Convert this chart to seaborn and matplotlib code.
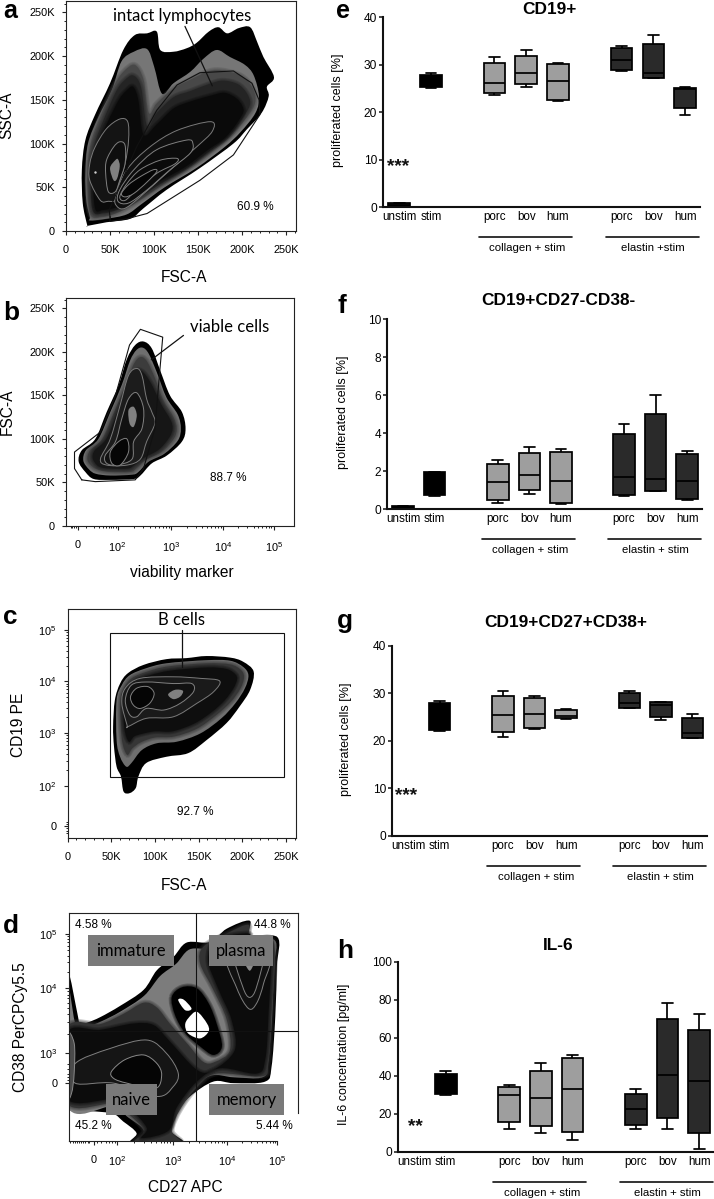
import numpy as np
import pandas as pd
import matplotlib
matplotlib.use('Agg')
import matplotlib.pyplot as plt
import seaborn as sns
from matplotlib.colors import to_rgb
from matplotlib.path import Path
from matplotlib.patches import PathPatch, Rectangle

# ---- box plot values: min, q1, median, q3, max ----
GROUPS = ['unstim', 'stim', 'gap1', 'col_porc', 'col_bov', 'col_hum', 'gap2', 'el_porc', 'el_bov', 'el_hum']
GROUP_LABELS = ['unstim', 'stim', '', 'porc', 'bov', 'hum', '', 'porc', 'bov', 'hum']

E_VALUES = {
    'unstim': [0.2, 0.3, 0.5, 0.8, 0.9], 'stim': [25.0, 25.3, 26.6, 27.8, 28.3],
    'col_porc': [23.7, 24.0, 26.1, 30.4, 31.6], 'col_bov': [25.2, 26.0, 28.3, 31.8, 33.0],
    'col_hum': [22.4, 22.5, 26.5, 30.2, 30.3], 'el_porc': [28.6, 28.9, 31.0, 33.5, 34.0],
    'el_bov': [27.3, 27.3, 28.2, 34.4, 36.2], 'el_hum': [19.5, 20.8, 24.8, 25.0, 25.2],
}
F_VALUES = {
    'unstim': [0.03, 0.06, 0.1, 0.15, 0.18], 'stim': [0.67, 0.72, 1.2, 1.93, 1.95],
    'col_porc': [0.3, 0.49, 1.42, 2.37, 2.58], 'col_bov': [0.81, 1.0, 1.77, 2.93, 3.29],
    'col_hum': [0.25, 0.3, 1.46, 3.0, 3.18], 'el_porc': [0.69, 0.74, 1.69, 3.97, 4.48],
    'el_bov': [0.93, 0.95, 1.56, 5.03, 6.03], 'el_hum': [0.47, 0.53, 1.49, 2.88, 3.08],
}
G_VALUES = {
    'stim': [22.1, 22.3, 25.0, 28.0, 28.4],
    'col_porc': [20.9, 21.8, 25.4, 29.4, 30.5], 'col_bov': [22.5, 22.6, 25.7, 29.1, 29.4],
    'col_hum': [24.6, 24.7, 25.2, 26.4, 26.7], 'el_porc': [26.8, 27.0, 28.0, 30.0, 30.5],
    'el_bov': [24.3, 25.0, 27.5, 28.1, 28.2], 'el_hum': [20.5, 20.7, 21.6, 24.7, 25.7],
}
H_VALUES = {
    'stim': [29.6, 30.5, 36.0, 40.9, 42.5],
    'col_porc': [11.8, 15.8, 29.8, 34.2, 35.3], 'col_bov': [9.8, 13.7, 28.1, 42.5, 46.7],
    'col_hum': [6.0, 10.2, 33.2, 49.1, 51.0], 'el_porc': [11.8, 14.0, 22.5, 30.5, 33.0],
    'el_bov': [11.8, 17.9, 40.5, 69.6, 78.2], 'el_hum': [1.4, 9.8, 37.0, 64.0, 72.5],
}

# ---- panel a outlines: FSC-A (K), SSC-A (K) ----
A_OUTER = [(24, 7), (19, 32), (18, 70), (22, 104), (33, 133), (50, 169), (65, 207), (78, 224), (92, 226), (103, 228),
           (107, 207), (122, 205), (137, 209), (148, 215), (162, 228), (173, 233), (183, 226), (196, 232), (209, 233),
           (217, 216), (224, 199), (236, 176), (228, 165), (230, 154), (222, 135), (205, 116), (190, 100), (152, 72),
           (114, 47), (88, 26), (73, 14), (46, 10), (25, 6)]
A_BAND = [(27, 16), (23, 35), (22, 66), (25, 100), (37, 131), (52, 161), (63, 194), (77, 205), (92, 208), (100, 188),
          (109, 157), (122, 169), (141, 182), (156, 197), (171, 207), (186, 199), (203, 190), (213, 178), (219, 154),
          (215, 135), (198, 113), (180, 96), (148, 72), (112, 50), (86, 31), (69, 19), (46, 14), (27, 12)]
A_LEVEL2 = [(27, 20), (24, 66), (28, 100), (39, 131), (54, 165), (65, 182), (78, 190), (88, 173), (94, 135), (103, 146),
            (122, 163), (141, 173), (160, 182), (175, 184), (198, 178), (211, 165), (215, 150), (209, 135), (190, 112),
            (172, 96), (141, 73), (108, 52), (82, 34), (61, 22), (42, 16)]
A_LEVEL3 = [(30, 24), (28, 66), (32, 98), (43, 128), (57, 160), (66, 172), (76, 178), (85, 165), (92, 120), (103, 135),
            (122, 153), (141, 160), (162, 168), (178, 172), (195, 168), (205, 158), (209, 146), (203, 133), (186, 110),
            (165, 93), (137, 72), (106, 53), (80, 36), (60, 25), (42, 20)]
A_LEVEL4 = [(33, 26), (31, 66), (36, 96), (47, 124), (60, 150), (68, 160), (76, 165), (82, 150), (88, 110), (103, 122),
            (122, 140), (141, 148), (165, 155), (180, 158), (193, 152), (200, 143), (200, 133), (182, 108), (160, 92),
            (135, 73), (103, 55), (78, 39), (60, 28), (42, 24)]
A_LEFT1 = [(39, 35), (27, 58), (27, 77), (33, 96), (46, 117), (61, 128), (70, 125), (71, 104), (67, 77), (58, 47), (56, 35), (48, 34)]
A_LEFT2 = [(48, 45), (45, 66), (46, 81), (54, 96), (61, 102), (67, 98), (67, 77), (61, 58), (56, 45)]
A_LEFT3 = [(54, 58), (50, 72), (56, 81), (59, 82), (61, 74), (58, 60)]
A_RIGHT1 = [(58, 28), (56, 39), (69, 70), (95, 96), (126, 115), (164, 125), (166, 114), (148, 96), (114, 66), (84, 39), (67, 26)]
A_RIGHT2 = [(59, 34), (61, 47), (77, 70), (103, 93), (137, 104), (144, 100), (141, 89), (118, 70), (92, 47), (71, 32)]
A_RIGHT3 = [(61, 39), (69, 54), (84, 70), (107, 81), (126, 83), (124, 77), (103, 66), (80, 47), (67, 35)]
A_RIGHT4 = [(63, 43), (71, 53), (84, 62), (99, 70), (103, 68), (92, 56), (77, 43), (67, 39)]
A_GATE = [(50, 16), (49, 24), (80, 96), (103, 138), (126, 167), (152, 181), (190, 183), (211, 169), (219, 150), (220, 133),
          (190, 87), (152, 58), (122, 39), (92, 20), (69, 14), (50, 11)]

# ---- panel b outlines: viability (display decades), FSC-A (K) ----
B_OUTER = [(1.38, 62), (1.25, 74), (1.31, 87), (1.57, 100), (1.79, 131), (2.02, 162), (2.18, 192), (2.34, 208), (2.5, 212),
           (2.66, 204), (2.82, 179), (3.01, 150), (3.24, 131), (3.31, 112), (3.24, 97), (2.95, 81), (2.66, 72), (2.44, 58),
           (2.31, 54), (1.86, 53), (1.54, 54)]
B_BAND = [(1.45, 65), (1.34, 75), (1.39, 87), (1.63, 100), (1.86, 131), (2.08, 162), (2.24, 190), (2.36, 202), (2.48, 205),
          (2.6, 198), (2.76, 176), (2.94, 148), (3.16, 128), (3.22, 112), (3.16, 98), (2.9, 83), (2.6, 74), (2.4, 62),
          (2.28, 59), (1.86, 58), (1.58, 60)]
B_LEVEL2 = [(1.52, 68), (1.42, 76), (1.47, 87), (1.7, 100), (1.93, 131), (2.14, 160), (2.28, 182), (2.38, 192), (2.48, 194),
            (2.58, 188), (2.72, 170), (2.88, 145), (3.08, 125), (3.14, 112), (3.08, 100), (2.85, 85), (2.55, 76), (2.36, 66),
            (2.24, 62), (1.86, 62), (1.65, 64)]
B_LEVEL3 = [(1.6, 70), (1.52, 78), (1.56, 87), (1.78, 100), (2.0, 131), (2.2, 160), (2.36, 178), (2.46, 178), (2.56, 172),
            (2.68, 160), (2.84, 140), (3.02, 122), (3.06, 112), (3.0, 102), (2.8, 88), (2.5, 78), (2.32, 70), (2.2, 66),
            (1.86, 66), (1.7, 67)]
B_CONTOUR1 = [(1.67, 77), (1.86, 100), (2.05, 139), (2.21, 173), (2.37, 181), (2.47, 173), (2.56, 146), (2.66, 131), (2.72, 118),
              (2.56, 97), (2.44, 77), (2.18, 70), (1.79, 70)]
B_CONTOUR2 = [(1.76, 81), (1.96, 97), (2.08, 123), (2.21, 146), (2.37, 153), (2.5, 135), (2.47, 112), (2.31, 97), (2.28, 77),
              (1.99, 70), (1.79, 72)]
B_CONTOUR3 = [(1.86, 85), (2.02, 97), (2.18, 100), (2.21, 85), (2.05, 70), (1.89, 72)]
B_CORE = [(2.21, 133), (2.31, 137), (2.37, 127), (2.31, 114), (2.23, 118)]
B_GATE = [(1.31, 53), (1.57, 51), (2.34, 53), (2.5, 66), (2.72, 112), (2.79, 162), (2.87, 217), (2.44, 226), (2.23, 208),
          (1.96, 150), (1.67, 108), (1.17, 85), (1.17, 66)]

# ---- panel c outlines: FSC-A (K), CD19 PE (display decades) ----
C_OUTER = [(64, 1.89), (61, 2.18), (56, 2.37), (53, 2.76), (52, 3.14), (54, 3.65), (60, 3.97), (69, 4.17), (87, 4.33), (113, 4.44),
           (136, 4.46), (159, 4.5), (186, 4.47), (201, 4.39), (213, 4.2), (209, 3.85), (197, 3.53), (182, 3.21), (159, 2.88),
           (138, 2.63), (113, 2.56), (90, 2.44), (81, 2.18), (78, 1.96), (71, 1.86)]
C_BAND = [(67, 2.37), (60, 2.56), (56, 2.88), (56, 3.65), (62, 3.94), (71, 4.13), (89, 4.26), (113, 4.36), (159, 4.42), (186, 4.41),
          (201, 4.29), (207, 4.13), (203, 3.88), (192, 3.59), (176, 3.3), (152, 3.01), (125, 2.85), (102, 2.82), (85, 2.69), (73, 2.44)]
C_LEVEL2 = [(68, 2.6), (62, 2.9), (60, 3.62), (65, 3.9), (74, 4.08), (91, 4.2), (115, 4.3), (159, 4.36), (186, 4.34), (198, 4.24),
            (202, 4.1), (198, 3.88), (187, 3.62), (170, 3.36), (148, 3.1), (122, 2.95), (100, 2.93), (84, 2.84), (74, 2.72)]
C_LEVEL3 = [(70, 2.85), (65, 3.1), (64, 3.6), (69, 3.85), (78, 4.02), (94, 4.13), (118, 4.22), (160, 4.28), (182, 4.25), (192, 4.15),
            (194, 4.05), (190, 3.88), (180, 3.65), (165, 3.42), (145, 3.2), (120, 3.05), (100, 3.05), (85, 3.0), (76, 2.95)]
C_CONTOUR1 = [(68, 3.17), (62, 3.59), (66, 3.88), (83, 4.07), (121, 4.1), (152, 4.07), (174, 4.02), (167, 3.81), (148, 3.59),
              (121, 3.33), (90, 3.3), (69, 3.14)]
C_CONTOUR2 = [(71, 3.37), (66, 3.65), (73, 3.94), (90, 4.0), (121, 3.97), (142, 3.97), (144, 3.81), (129, 3.59), (110, 3.46),
              (90, 3.49), (79, 3.33)]
C_CONTOUR3 = [(75, 3.56), (72, 3.72), (79, 3.88), (92, 3.91), (99, 3.78), (94, 3.59), (83, 3.49)]
C_CORE = [(115, 3.76), (123, 3.85), (132, 3.83), (129, 3.72), (121, 3.67)]
C_GATE_X = [48, 248]
C_GATE_Y = [2.17, 4.95]

# ---- panel d outlines: CD27 APC, CD38 PerCPCy5.5 (display decades) ----
D_OUTER = [(1.05, 4.45), (1.11, 4.44), (1.25, 3.75), (1.3, 3.56), (1.44, 3.58), (1.68, 3.68), (2.05, 3.89), (2.49, 4.19), (2.74, 4.56),
           (3.05, 4.81), (3.3, 5.08), (3.74, 5.09), (4.05, 5.34), (4.48, 5.49), (4.48, 5.19), (5.0, 5.18), (4.99, 4.63), (4.96, 3.69),
           (4.89, 2.75), (4.77, 2.47), (4.18, 2.44), (3.8, 2.47), (3.36, 2.19), (3.11, 1.88), (2.99, 1.56), (3.23, 1.3), (2.27, 1.3),
           (2.36, 1.5), (2.11, 1.72), (1.86, 1.88), (1.11, 1.93), (1.05, 1.93)]
D_BAND = [(1.05, 4.3), (1.2, 3.6), (1.3, 3.47), (1.44, 3.5), (1.7, 3.6), (2.05, 3.78), (2.5, 4.08), (2.8, 4.45), (3.1, 4.68), (3.35, 4.95),
          (3.74, 4.98), (4.05, 5.22), (4.45, 5.4), (4.45, 5.12), (4.95, 5.12), (4.93, 4.6), (4.9, 3.69), (4.82, 2.8), (4.72, 2.55),
          (4.18, 2.55), (3.75, 2.58), (3.3, 2.28), (3.05, 1.95), (2.9, 1.6), (3.1, 1.3), (2.4, 1.3), (2.5, 1.55), (2.2, 1.8), (1.9, 2.0),
          (1.05, 2.03)]
D_LEVEL2 = [(1.05, 3.47), (1.68, 3.55), (2.11, 3.74), (2.49, 3.95), (2.74, 3.86), (2.99, 3.55), (3.33, 3.16), (3.61, 2.84), (3.83, 2.84),
            (4.11, 3.06), (4.05, 3.63), (3.8, 4.19), (3.55, 4.69), (3.61, 5.0), (4.05, 5.25), (4.46, 5.41), (4.46, 5.09), (4.93, 5.09),
            (4.89, 3.69), (4.83, 2.81), (4.71, 2.57), (3.86, 2.62), (3.49, 2.36), (3.18, 1.95), (3.02, 1.55), (3.18, 1.3), (2.33, 1.3),
            (2.49, 1.55), (2.21, 1.86), (1.93, 2.06), (1.05, 2.07)]
D_LEVEL3 = [(1.05, 3.38), (1.68, 3.44), (2.3, 3.56), (2.68, 3.53), (2.96, 3.25), (3.49, 2.69), (3.8, 2.69), (4.2, 3.06), (4.14, 3.63),
            (3.9, 4.19), (3.7, 4.75), (3.86, 5.13), (4.46, 5.25), (4.46, 5.06), (4.86, 5.06), (4.83, 3.69), (4.77, 2.88), (4.61, 2.62),
            (3.93, 2.72), (3.49, 2.47), (3.11, 1.98), (2.96, 1.55), (2.46, 1.41), (2.55, 1.6), (2.24, 1.97), (1.99, 2.15), (1.05, 2.15)]
D_HOLE = [(3.02, 4.06), (3.21, 4.24), (3.49, 4.22), (3.71, 3.94), (3.86, 3.56), (3.96, 3.13), (3.8, 2.97), (3.55, 3.13), (3.27, 3.38), (3.08, 3.72)]
D_WHITE1 = [(3.33, 3.66), (3.49, 3.78), (3.68, 3.56), (3.71, 3.41), (3.55, 3.28), (3.33, 3.37), (3.27, 3.53)]
D_WHITE2 = [(3.14, 4.0), (3.24, 4.01), (3.39, 3.84), (3.27, 3.81)]
D_PLASMA1 = [(4.05, 4.9), (4.24, 4.22), (4.46, 3.84), (4.61, 3.94), (4.74, 4.31), (4.85, 4.9)]
D_PLASMA2 = [(4.2, 4.9), (4.35, 4.25), (4.48, 4.05), (4.61, 4.25), (4.72, 4.9)]
D_PLASMA3 = [(4.33, 4.9), (4.48, 4.55), (4.6, 4.9)]
D_NAIVE1 = [(1.21, 2.81), (1.86, 3.09), (2.55, 3.25), (2.92, 3.0), (3.14, 2.63), (3.05, 2.38), (2.74, 2.19), (1.93, 2.44), (1.21, 2.44)]
D_NAIVE2 = [(1.89, 2.66), (2.14, 2.88), (2.49, 2.97), (2.74, 2.81), (2.83, 2.59), (2.71, 2.34), (2.18, 2.44), (1.93, 2.53)]
D_EDGE = [(1.05, 3.34), (1.19, 3.19), (1.19, 2.63), (1.14, 2.25), (1.05, 2.19)]
D_QUAD_X = 3.48
D_QUAD_Y = 3.42
D_BOXES = {'immature': (1.456, 3.06, 4.64, 5.22), 'plasma': (3.72, 4.91, 4.64, 5.22),
           'naive': (1.79, 2.75, 1.84, 2.42), 'memory': (3.72, 5.13, 1.84, 2.42)}
D_PERCENTS = [('4.58 %', 1.55, 5.41), ('44.8 %', 4.9, 5.41), ('45.2 %', 1.54, 1.63), ('5.44 %', 4.94, 1.63)]

# ---- tick positions ----
K_TICKS = [0, 50, 100, 150, 200, 250]
K_LABELS = ['0', '50K', '100K', '150K', '200K', '250K']
K_MINOR = [10, 20, 30, 40, 60, 70, 80, 90, 110, 120, 130, 140, 160, 170, 180, 190, 210, 220, 230, 240, 260]
B_XTICKS = [1.24, 2, 3.03, 4.03, 5.01]
C_YTICKS = [1.22, 2, 3.02, 4.01, 5.0]
D_XTICKS = [1.556, 2, 3.04, 4.05, 5.0]
D_YTICKS = [2.44, 3, 4.22, 5.24]
LOG_LABELS = ['0', r'$\mathregular{10^{2}}$', r'$\mathregular{10^{3}}$', r'$\mathregular{10^{4}}$', r'$\mathregular{10^{5}}$']
D_YLABELS = ['0', r'$\mathregular{10^{3}}$', r'$\mathregular{10^{4}}$', r'$\mathregular{10^{5}}$']

FIG_W, FIG_H = 714, 1199
sns.set_theme(style='ticks')
plt.rcParams['font.family'] = ['Liberation Sans', 'DejaVu Sans']
plt.rcParams['mathtext.fontset'] = 'custom'
plt.rcParams['mathtext.rm'] = 'Liberation Sans'
plt.rcParams['mathtext.default'] = 'regular'
plt.rcParams['text.color'] = 'black'
plt.rcParams['axes.labelcolor'] = 'black'
plt.rcParams['xtick.labelcolor'] = 'black'
plt.rcParams['ytick.labelcolor'] = 'black'

fig = plt.figure(figsize=(FIG_W / 100, FIG_H / 100), dpi=100, facecolor='white')


def px(x, y):
    return x / FIG_W, 1 - y / FIG_H


def axes_px(left, top, right, bottom):
    return fig.add_axes([left / FIG_W, 1 - bottom / FIG_H, (right - left) / FIG_W, (bottom - top) / FIG_H])


def outline_path(points):
    # closed outline that goes through every read point, only the corners are rounded
    pts = np.array(points, dtype=float)
    prev_pts = np.roll(pts, 1, axis=0)
    next_pts = np.roll(pts, -1, axis=0)
    next2_pts = np.roll(pts, -2, axis=0)
    verts = [pts[0]]
    codes = [Path.MOVETO]
    for p0, p1, p2, p3 in zip(prev_pts, pts, next_pts, next2_pts):
        verts += [p1 + (p2 - p0) / 6, p2 - (p3 - p1) / 6, p2]
        codes += [Path.CURVE4, Path.CURVE4, Path.CURVE4]
    return Path(verts, codes)


def draw_levels(ax, levels):
    for i, (points, color, edge) in enumerate(levels):
        path = outline_path(points)
        z = 2 + i * 0.01
        # dark inner levels get a soft rim so the grey steps run into each other
        if i >= 2 and edge == 'none' and to_rgb(color)[0] < 0.4:
            for width in [4, 2.5, 1.2]:
                ax.add_patch(PathPatch(path, facecolor='none', edgecolor=color, lw=width, alpha=0.25, zorder=z))
        lw = 0.7 if edge != 'none' else 0
        ax.add_patch(PathPatch(path, facecolor=color, edgecolor=edge, lw=lw, zorder=z))


def draw_gate(ax, points):
    closed = list(points) + [points[0]]
    ax.plot([p[0] for p in closed], [p[1] for p in closed], color='#111111', lw=0.8, zorder=4)


def decade_minors(majors):
    out = []
    for lo, hi in zip(majors[:-1], majors[1:]):
        for k in range(2, 10):
            out.append(lo + (hi - lo) * np.log10(k))
    return out


def style_flow(ax, xlabel, ylabel, xlabel_xy, ylabel_xy):
    for s in ax.spines.values():
        s.set_linewidth(0.8)
        s.set_color('#222222')
    ax.tick_params(which='major', length=3, width=0.8, labelsize=7.9, color='#222222', pad=7)
    ax.tick_params(which='minor', length=1.6, width=0.7, color='#222222')
    ax.tick_params(axis='y', which='major', pad=5)
    ax.set_xlabel(xlabel, fontsize=11.2, va='center', ha='center')
    ax.set_ylabel(ylabel, fontsize=11.2, va='center', ha='center')
    ax.xaxis.set_label_coords(*px(*xlabel_xy), transform=fig.transFigure)
    ax.yaxis.set_label_coords(*px(*ylabel_xy), transform=fig.transFigure)


def draw_box_panel(pos, values, ymax, yticks, ylabel, ylabel_x, title, title_xy, elastin_label, stars=None):
    ax = axes_px(*pos)
    rows = [(g, v) for g, vals in values.items() for v in vals]
    df = pd.DataFrame(rows, columns=['group', 'value'])
    fills = {'unstim': '#2b2b2b', 'stim': '#000000'}
    for g in GROUPS[3:6]:
        fills[g] = '#9e9e9e'
    for g in GROUPS[7:]:
        fills[g] = '#2a2a2a'
    sns.boxplot(data=df, x='group', y='value', hue='group', order=GROUPS, palette=fills, whis=(0, 100), width=0.68,
                dodge=False, linewidth=1.25, linecolor='#000000', fliersize=0, saturation=1, legend=False, ax=ax)
    ax.set_xlim(-0.5, 9.47)
    ax.set_ylim(0, ymax)
    ax.set_xticks(range(len(GROUPS)), GROUP_LABELS)
    ax.set_yticks(yticks)
    ax.set_xlabel('')
    ax.set_ylabel(ylabel, fontsize=9, labelpad=0)
    ax.yaxis.set_label_coords(*px(ylabel_x, (pos[1] + pos[3]) / 2 - 2), transform=fig.transFigure)
    ax.tick_params(axis='x', length=0, labelsize=8.4, pad=3)
    ax.tick_params(axis='y', length=3, width=1.2, labelsize=8.6, pad=1.5)
    sns.despine(ax=ax)
    for s in ['left', 'bottom']:
        ax.spines[s].set_linewidth(1.5)
        ax.spines[s].set_color('#111111')
    trans = ax.get_xaxis_transform()
    for x0, x1 in [(2.5, 5.44), (6.5, 9.44)]:
        ax.plot([x0, x1], [-0.157, -0.157], color='#111111', lw=1.2, transform=trans, clip_on=False)
    ax.text(4.04, -0.216, 'collagen + stim', ha='center', va='center', fontsize=8.2, transform=trans)
    ax.text(8.0, -0.216, elastin_label, ha='center', va='center', fontsize=8.2, transform=trans)
    if stars:
        ax.text(stars[0], stars[1], stars[2], ha='center', va='center', fontsize=13.6, fontweight='bold', color='#111111')
    fig.text(*px(*title_xy), title, ha='center', va='baseline', fontsize=12.4, fontweight='bold')
    return ax


# ---- a ----
ax = axes_px(66, 1, 296, 231)
ax.set_xlim(0, 261)
ax.set_ylim(0, 263)
draw_levels(ax, [(A_OUTER, '#000000', 'none'), (A_BAND, '#767676', 'none'), (A_LEVEL2, '#484848', 'none'),
                 (A_LEVEL3, '#242424', 'none'), (A_LEVEL4, '#0a0a0a', 'none'),
                 (A_LEFT1, '#141414', '#7a7a7a'), (A_LEFT2, '#0e0e0e', '#808080'), (A_LEFT3, '#808080', 'none'),
                 (A_RIGHT1, '#101010', '#7a7a7a'), (A_RIGHT2, '#0c0c0c', '#808080'), (A_RIGHT3, '#0a0a0a', '#808080'),
                 (A_RIGHT4, '#050505', '#808080')])
ax.scatter([33], [68], s=3, color='#d0d0d0', linewidths=0, zorder=3)
draw_gate(ax, A_GATE)
ax.plot([135, 166], [234, 166], color='#111111', lw=0.9, zorder=5)
ax.text(132, 246, 'intact lymphocytes', family='Lato', fontsize=12, ha='center', va='center')
ax.text(215, 28, '60.9 %', fontsize=8.5, ha='center', va='center')
ax.set_xticks(K_TICKS, K_LABELS)
ax.set_yticks(K_TICKS, K_LABELS)
ax.set_xticks(K_MINOR, minor=True)
ax.set_yticks(K_MINOR, minor=True)
style_flow(ax, 'FSC-A', 'SSC-A', (184, 278), (7, 115))

# ---- b ----
ax = axes_px(66, 298, 294, 526)
ax.set_xlim(1.006, 5.40)
ax.set_ylim(0, 262)
draw_levels(ax, [(B_OUTER, '#000000', 'none'), (B_BAND, '#6e6e6e', 'none'), (B_LEVEL2, '#3c3c3c', 'none'),
                 (B_LEVEL3, '#161616', 'none'), (B_CONTOUR1, '#1c1c1c', '#7a7a7a'), (B_CONTOUR2, '#111111', '#808080'),
                 (B_CONTOUR3, '#050505', '#808080'), (B_CORE, '#808080', 'none')])
draw_gate(ax, B_GATE)
ax.plot([3.27, 2.65], [219, 191], color='#111111', lw=0.9, zorder=5)
ax.text(4.15, 229, 'viable cells', family='Lato', fontsize=12, ha='center', va='center')
ax.text(4.13, 55, '88.7 %', fontsize=8.5, ha='center', va='center')
ax.set_xticks(B_XTICKS, LOG_LABELS)
ax.set_xticks(decade_minors(B_XTICKS[1:]) + [1.1, 1.13, 1.16, 1.2, 1.4, 1.55, 1.65, 1.72, 1.78, 1.84, 1.88, 1.92, 1.96], minor=True)
ax.set_yticks(K_TICKS, K_LABELS)
ax.set_yticks(K_MINOR, minor=True)
style_flow(ax, 'viability marker', 'FSC-A', (182, 573), (7, 412))

# ---- c ----
ax = axes_px(67.7, 609.3, 296, 838.3)
ax.set_xlim(0, 261.5)
ax.set_ylim(0.99, 5.4)
draw_levels(ax, [(C_OUTER, '#000000', 'none'), (C_BAND, '#6e6e6e', 'none'), (C_LEVEL2, '#363636', 'none'),
                 (C_LEVEL3, '#0e0e0e', 'none'), (C_CONTOUR1, '#1a1a1a', '#7a7a7a'), (C_CONTOUR2, '#111111', '#808080'),
                 (C_CONTOUR3, '#050505', '#808080'), (C_CORE, '#808080', 'none')])
ax.add_patch(Rectangle((C_GATE_X[0], C_GATE_Y[0]), C_GATE_X[1] - C_GATE_X[0], C_GATE_Y[1] - C_GATE_Y[0],
                       fill=False, edgecolor='#111111', lw=0.8, zorder=4))
ax.plot([131, 131], [5.01, 4.28], color='#111111', lw=0.9, zorder=5)
ax.text(130.5, 5.19, 'B cells', family='Lato', fontsize=12, ha='center', va='center')
ax.text(146, 1.49, '92.7 %', fontsize=8.5, ha='center', va='center')
ax.set_xticks(K_TICKS, K_LABELS)
ax.set_xticks(K_MINOR, minor=True)
ax.set_yticks(C_YTICKS, LOG_LABELS)
ax.set_yticks(decade_minors(C_YTICKS[1:]) + [1.1, 1.14, 1.18, 1.26, 1.3], minor=True)
style_flow(ax, 'FSC-A', 'CD19 PE', (184, 886), (18.3, 725))

# ---- d ----
ax = axes_px(68.7, 912.7, 297.7, 1140.7)
ax.set_xlim(1.0875, 5.38)
ax.set_ylim(1.36, 5.64)
draw_levels(ax, [(D_OUTER, '#000000', 'none'), (D_BAND, '#7c7c7c', 'none'), (D_LEVEL2, '#333333', 'none'),
                 (D_LEVEL3, '#0c0c0c', 'none'), (D_HOLE, '#000000', 'none'), (D_WHITE1, '#ffffff', 'none'),
                 (D_WHITE2, '#ffffff', 'none'), (D_PLASMA1, '#111111', '#808080'), (D_PLASMA2, '#0c0c0c', '#808080'),
                 (D_PLASMA3, '#8a8a8a', 'none'), (D_NAIVE1, '#151515', '#808080'), (D_NAIVE2, '#050505', '#8a8a8a'),
                 (D_EDGE, '#4a4a4a', '#8a8a8a')])
ax.axvline(D_QUAD_X, color='#111111', lw=0.8, zorder=4)
ax.axhline(D_QUAD_Y, color='#111111', lw=0.8, zorder=4)
for name, (x0, x1, y0, y1) in D_BOXES.items():
    ax.add_patch(Rectangle((x0, y0), x1 - x0, y1 - y0, facecolor='#7a7a7a', edgecolor='none', zorder=5))
    ax.text((x0 + x1) / 2, (y0 + y1) / 2, name, family='Lato', fontsize=12, ha='center', va='center', zorder=6)
for label, x, y in D_PERCENTS:
    ax.text(x, y, label, fontsize=8.5, ha='center', va='center', zorder=6)
ax.set_xticks(D_XTICKS, LOG_LABELS)
ax.set_xticks(decade_minors(D_XTICKS[1:]) + [1.12, 1.16, 1.2, 1.24, 1.28, 1.32, 1.36, 1.4, 1.44, 1.47, 1.62, 1.7, 1.78, 1.84, 1.9, 1.95], minor=True)
ax.set_yticks(D_YTICKS, D_YLABELS)
ax.set_yticks(decade_minors(D_YTICKS[1:]) + [2.5, 2.56, 2.62, 2.7, 2.8], minor=True)
style_flow(ax, 'CD27 APC', 'CD38 PerCPCy5.5', (185, 1188), (20.7, 1027))
ax.spines['right'].set_bounds(1.875, 5.64)
ax.spines['bottom'].set_bounds(1.0875, 5.0)

# ---- e to h ----
draw_box_panel((383.3, 17.3, 700, 207), E_VALUES, 40, [0, 10, 20, 30, 40], 'proliferated cells [%]', 344,
               'CD19+', (549, 14), 'elastin +stim', (-0.03, 8.6, '***'))
draw_box_panel((387.3, 319.3, 702, 509), F_VALUES, 10, [0, 2, 4, 6, 8, 10], 'proliferated cells [%]', 349.3,
               'CD19+CD27-CD38-', (558, 305), 'elastin + stim')
draw_box_panel((392.3, 645.7, 707.3, 836), G_VALUES, 40, [0, 10, 20, 30, 40], 'proliferated cells [%]', 351.7,
               'CD19+CD27+CD38+', (565.7, 626.7), 'elastin + stim', (-0.05, 8.6, '***'))
draw_box_panel((398.3, 961.7, 714, 1151.7), H_VALUES, 100, [0, 20, 40, 60, 80, 100], 'IL-6 concentration [pg/ml]', 350,
               'IL-6', (558.3, 950), 'elastin + stim', (0.04, 13.4, '**'))

# panel letters
PANEL_LETTERS = [('a', 3, 18.5, 18), ('b', 3, 320, 18.8), ('c', 3, 624, 18.8), ('d', 3, 933, 18.8),
                 ('e', 336, 18.5, 18), ('f', 337, 313, 18.8), ('g', 337, 628, 18.8), ('h', 337, 958, 18.8)]
for letter, x, y, size in PANEL_LETTERS:
    fig.text(*px(x, y), letter, fontsize=size, fontweight='bold', ha='left', va='baseline')

fig.savefig('out.png', dpi=100)
